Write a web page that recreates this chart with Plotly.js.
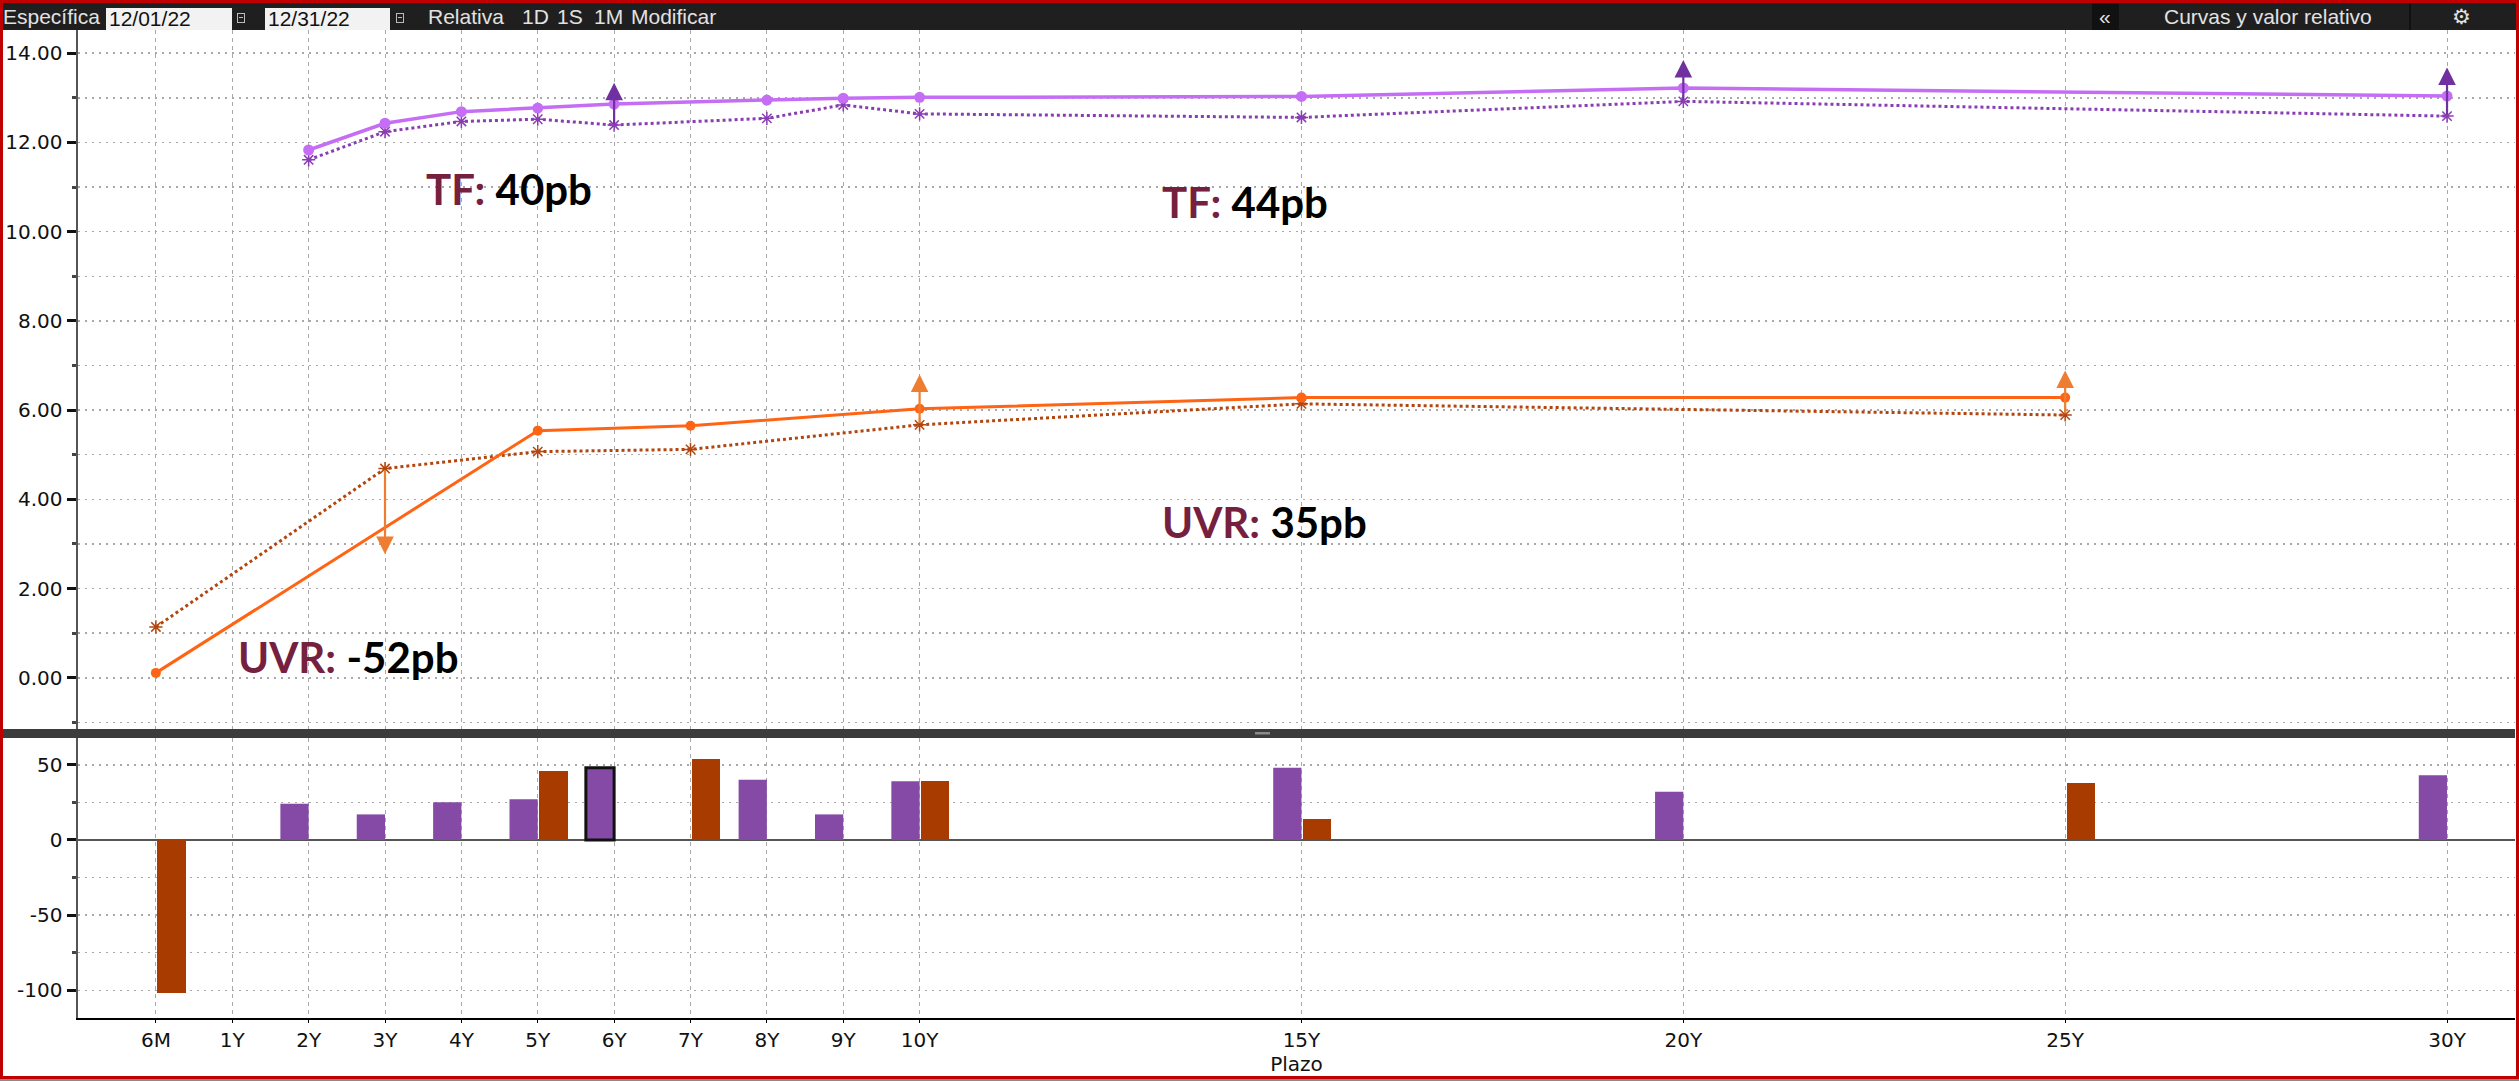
<!DOCTYPE html>
<html><head><meta charset="utf-8">
<script src="https://cdn.plot.ly/plotly-3.0.1.min.js"></script>
<style>
html,body{margin:0;padding:0;background:#fff;width:2519px;height:1081px;overflow:hidden;}
#chart{position:absolute;left:0;top:0;width:2519px;height:1081px;}
#tb{position:absolute;left:0;top:0;width:2519px;height:30px;background:#1f1f1f;border-top:3px solid #c00000;box-sizing:border-box;font-family:'Liberation Sans Narrow','Liberation Sans',Arial,sans-serif;color:#e2e2e2;font-size:21px;z-index:5;}
.t{position:absolute;top:2px;line-height:24px;white-space:nowrap;}
.box{position:absolute;top:5px;height:22px;background:#f2f2f2;color:#111;line-height:22px;padding-left:3px;box-sizing:border-box;}
.ic{position:absolute;top:10px;width:8px;height:10px;border:1px solid #bbb;box-sizing:border-box;}
.ic:after{content:'';position:absolute;left:1px;right:1px;top:3px;height:1px;background:#bbb;}
#fl{position:absolute;left:0;top:0;width:3px;height:1081px;background:#c00000;z-index:6;}
#fr{position:absolute;right:0;top:0;width:3px;height:1081px;background:#c00000;z-index:6;}
#fb{position:absolute;left:0;bottom:0;width:2519px;height:5px;background:#c00000;border-bottom:2px solid #8a8a8a;box-sizing:border-box;z-index:6;}
</style></head>
<body>
<div id="chart"></div>
<div id="tb">
  <span class="t" style="left:3px">Específica</span>
  <div class="box" style="left:106px;width:126px">12/01/22</div>
  <div class="ic" style="left:237px"></div>
  <div class="box" style="left:265px;width:125px">12/31/22</div>
  <div class="ic" style="left:396px"></div>
  <span class="t" style="left:428px">Relativa</span>
  <span class="t" style="left:522px">1D</span>
  <span class="t" style="left:557px">1S</span>
  <span class="t" style="left:594px">1M</span>
  <span class="t" style="left:631px">Modificar</span>
  <div style="position:absolute;left:2092px;top:0;width:27px;height:27px;background:#111"></div>
  <span class="t" style="left:2099px">«</span>
  <span class="t" style="left:2164px">Curvas y valor relativo</span>
  <div style="position:absolute;left:2409px;top:0;width:2px;height:27px;background:#111"></div>
  <span class="t" style="left:2452px">⚙</span>
</div>
<div id="fl"></div><div id="fr"></div><div id="fb"></div>
<script>
// ---- axis categories / tick labels ----
const tenorLabels = ['6M','1Y','2Y','3Y','4Y','5Y','6Y','7Y','8Y','9Y','10Y','15Y','20Y','25Y','30Y'];
const tenorPos    = [0,1,2,3,4,5,6,7,8,9,10,15,20,25,30];
const yTopTicks  = [0,2,4,6,8,10,12,14];
const yTopLabels = ['0.00','2.00','4.00','6.00','8.00','10.00','12.00','14.00'];
const yBotTicks  = [-100,-50,0,50];
const yBotLabels = ['-100','-50','0','50'];

// ---- TF curve (tasa fija) ----
const tfTenors  = ['2Y','3Y','4Y','5Y','6Y','8Y','9Y','10Y','15Y','20Y','30Y'];
const tfCurrent = [11.83,12.43,12.69,12.77,12.86,12.95,12.99,13.01,13.03,13.22,13.04];
const tfPrior   = [11.61,12.24,12.47,12.52,12.39,12.54,12.84,12.64,12.56,12.92,12.59];

// ---- UVR curve ----
const uvrCurTenors   = ['6M','5Y','7Y','10Y','15Y','25Y'];
const uvrCurrent     = [0.11,5.54,5.65,6.03,6.28,6.28];
const uvrPriorTenors = ['6M','3Y','5Y','7Y','10Y','15Y','25Y'];
const uvrPrior       = [1.14,4.69,5.07,5.12,5.67,6.14,5.89];

// ---- change arrows ----
const tfArrowTenors  = ['6Y','20Y','30Y'];
const tfArrowFrom    = [12.39,12.92,12.59];
const tfArrowTo      = [13.34,13.85,13.68];
const uvrArrowTenors = ['3Y','10Y','25Y'];
const uvrArrowFrom   = [4.69,5.67,5.89];
const uvrArrowTo     = [2.77,6.80,6.89];

// ---- change bars (pb) ----
const tfBarTenors  = ['2Y','3Y','4Y','5Y','6Y','8Y','9Y','10Y','15Y','20Y','30Y'];
const tfBarValues  = [24,17,25,27,48,40,17,39,48,32,43];
const uvrBarTenors = ['6M','5Y','7Y','10Y','15Y','25Y'];
const uvrBarValues = [-102,46,54,39,14,38];
const highlightTenor = '6Y';

// ---- text labels ----
const labelNames  = ['TF:','TF:','UVR:','UVR:'];
const labelValues = ['40pb','44pb','35pb','-52pb'];
const labelTenorX = [3.51,13.15,13.15,1.05];
const labelY      = [10.95,10.66,3.49,0.46];

const pos = t => tenorPos[tenorLabels.indexOf(t)];

const C = {
  tfCur:'#c56ef5', tfPri:'#8a3db3', tfArr:'#7030a0',
  uvCur:'#ff6414', uvPri:'#b2460e', uvArr:'#ee7d31',
  barTF:'#854aa6', barUV:'#a83c00', grid:'#a8a8a8'
};

const traces = [
  {type:'bar', x:tfBarTenors.map(pos), y:tfBarValues, xaxis:'x', yaxis:'y2',
   width:0.37, offset:-0.37,
   marker:{color:C.barTF, line:{color:'#111',
     width:tfBarTenors.map(t=>t===highlightTenor?3:0)}}, hoverinfo:'skip'},
  {type:'bar', x:uvrBarTenors.map(pos), y:uvrBarValues, xaxis:'x', yaxis:'y2',
   width:0.37, offset:0.02, marker:{color:C.barUV, line:{width:0}}, hoverinfo:'skip'},
  {type:'scatter', mode:'lines+markers', x:tfTenors.map(pos), y:tfPrior, xaxis:'x', yaxis:'y',
   line:{color:C.tfPri, width:3, dash:'dot'},
   marker:{symbol:'asterisk-open', size:11, color:C.tfPri, line:{color:C.tfPri, width:1.5}}},
  {type:'scatter', mode:'lines+markers', x:tfTenors.map(pos), y:tfCurrent, xaxis:'x', yaxis:'y',
   line:{color:C.tfCur, width:3.5}, marker:{symbol:'circle', size:11, color:C.tfCur}},
  {type:'scatter', mode:'lines+markers', x:uvrPriorTenors.map(pos), y:uvrPrior, xaxis:'x', yaxis:'y',
   line:{color:C.uvPri, width:3, dash:'dot'},
   marker:{symbol:'asterisk-open', size:11, color:C.uvPri, line:{color:C.uvPri, width:1.5}}},
  {type:'scatter', mode:'lines+markers', x:uvrCurTenors.map(pos), y:uvrCurrent, xaxis:'x', yaxis:'y',
   line:{color:C.uvCur, width:3}, marker:{symbol:'circle', size:10, color:C.uvCur}}
];

const annotations = [];
function addArrows(tenors, from, to, color){
  tenors.forEach((t,i)=>{
    annotations.push({x:pos(t), y:to[i], ax:pos(t), ay:from[i], xref:'x', yref:'y', axref:'x', ayref:'y',
      text:'', showarrow:true, arrowhead:2, arrowsize:1.6, arrowwidth:2.2, arrowcolor:color, standoff:0, startstandoff:0});
  });
}
addArrows(tfArrowTenors, tfArrowFrom, tfArrowTo, C.tfArr);
addArrows(uvrArrowTenors, uvrArrowFrom, uvrArrowTo, C.uvArr);
labelNames.forEach((n,i)=>{
  annotations.push({x:labelTenorX[i], y:labelY[i], xref:'x', yref:'y', xanchor:'left', yanchor:'middle',
    showarrow:false, text:'<b><span style="color:#76203f">'+n+'</span> '+labelValues[i]+'</b>',
    font:{family:'Lato, "Open Sans", sans-serif', size:42, color:'#000'}});
});

// layout geometry (px)
const W=2519, H=1081, L=78, R=4, T=30, B=63;
const plotH = H-T-B;
const pY = px => (H-B-px)/plotH;
const pX = px => (px-L)/(W-L-R);

const tickFont = {family:'"DejaVu Sans", Verdana, sans-serif', size:20, color:'#111'};
const layout = {
  width:W, height:H, margin:{l:L, r:R, t:T, b:B}, paper_bgcolor:'#fff', plot_bgcolor:'#fff',
  showlegend:false, bargap:0, barmode:'overlay',
  xaxis:{anchor:'y2', range:[-1.02,30.89], tickvals:tenorPos, ticktext:tenorLabels,
    showgrid:true, gridcolor:C.grid, griddash:'4px,4px', gridwidth:1,
    showline:true, linecolor:'#000', linewidth:2, ticks:'outside', ticklen:3, tickcolor:'#000',
    tickfont:tickFont, zeroline:false,
    title:{text:'Plazo', font:tickFont, standoff:2}},
  yaxis:{domain:[pY(730),1], range:[-1.17,14.52], tickvals:yTopTicks, ticktext:yTopLabels,
    showgrid:true, gridcolor:C.grid, griddash:'2px,5px', gridwidth:1.5,
    minor:{dtick:1, tick0:0, showgrid:true, gridcolor:C.grid, griddash:'2px,5px', gridwidth:1.5,
      ticks:'outside', ticklen:4, tickcolor:'#444'},
    showline:true, linecolor:'#555', linewidth:2.5, ticks:'outside', ticklen:9, tickwidth:3, tickcolor:'#111',
    tickfont:tickFont, zeroline:false},
  yaxis2:{domain:[0,pY(738)], range:[-118.4,67.8], tickvals:yBotTicks, ticktext:yBotLabels,
    showgrid:true, gridcolor:C.grid, griddash:'2px,5px', gridwidth:1.5,
    minor:{dtick:25, tick0:0, showgrid:true, gridcolor:C.grid, griddash:'2px,5px', gridwidth:1.5,
      ticks:'outside', ticklen:4, tickcolor:'#444'},
    showline:true, linecolor:'#555', linewidth:2.5, ticks:'outside', ticklen:9, tickwidth:3, tickcolor:'#111',
    tickfont:tickFont, zeroline:true, zerolinecolor:'#555', zerolinewidth:2},
  shapes:[
    {type:'rect', xref:'paper', yref:'paper', x0:pX(3), x1:1, y0:pY(738), y1:pY(729),
     fillcolor:'#3c3c3c', line:{width:0}, layer:'above'},
    {type:'rect', xref:'paper', yref:'paper', x0:pX(1255), x1:pX(1270), y0:pY(734.5), y1:pY(732),
     fillcolor:'#8a8a8a', line:{width:0}, layer:'above'}
  ],
  annotations:annotations
};

Plotly.newPlot('chart', traces, layout, {displayModeBar:false, staticPlot:true});
</script>
</body></html>
